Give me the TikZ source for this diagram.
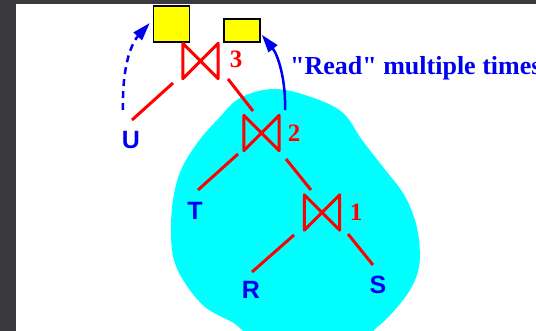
\documentclass[tikz,border=0pt]{standalone}
\usepackage{fontspec}
\setmainfont{Liberation Serif}
\newfontfamily\labelfont{Liberation Sans}
\newfontfamily\rdfont{Liberation Serif}
\usetikzlibrary{calc,arrows.meta}
\definecolor{bgdark}{HTML}{3A3A3E}
\definecolor{tblue}{HTML}{0000F0}
\definecolor{tred}{HTML}{FF0000}
\definecolor{tcyan}{HTML}{00FFFF}
\definecolor{tyellow}{HTML}{FFFF00}
\tikzset{
  joinnode/.style={minimum width=35pt,minimum height=35pt,inner sep=0pt,draw=none},
  bowtie/.style={tred,line width=3pt,line join=round},
  edge/.style={tred,line width=3pt},
  leaf/.style={text=tblue,font=\labelfont\bfseries\fontsize{25}{25}\selectfont,inner sep=0pt},
  num/.style={text=tred,font=\bfseries\fontsize{25}{25}\selectfont,inner sep=0pt},
  buf/.style={fill=tyellow,draw=black,line width=1.5pt,inner sep=0pt},
  reuse/.style={tblue,line width=2.5pt,-{Triangle[length=18pt,width=11pt]}},
}
\begin{document}
\begin{tikzpicture}[x=1pt,y=-1pt]
\useasboundingbox (0,0) rectangle (536,331);
\fill[bgdark] (0,0) rectangle (536,331);
\fill[white] (16,4) rectangle (536,331);
\begin{scope}
\clip (16,4) rectangle (536,331);
\fill[tcyan] plot[smooth cycle,tension=0.6] coordinates {
 (273,89) (308,96) (342,112) (362,140) (383,167) (403,193) (414,217)
 (419,240) (419,267) (410,290) (393,312) (376,328) (359,338) (263,338)
 (232,322) (205,307) (185,283) (174,260) (171,233) (173,200) (181,170)
 (198,142) (219,118) (240,98)};
\end{scope}
% buffers
\node[buf,minimum width=36pt,minimum height=36pt] (b1) at (171.5,24) {};
\node[buf,minimum width=36pt,minimum height=23pt] (b2) at (242,30.5) {};
% joins
\node[joinnode] (j3) at (200.5,61) {};
\node[joinnode] (j2) at (261.5,133) {};
\node[joinnode] (j1) at (322,212.5) {};
\foreach \j in {j1,j2,j3}{
  \draw[bowtie] (\j.north west) -- (\j.south west) -- (\j.north east) -- (\j.south east) -- cycle;
}
\node[num] (n3) at (236,59) {3};
\node[num] (n2) at (294,133.5) {2};
\node[num] (n1) at (356,212) {1};
% leaves
\node[leaf] (U) at (131,140) {U};
\node[leaf] (T) at (195,211) {T};
\node[leaf] (R) at (251,290) {R};
\node[leaf] (S) at (378,285) {S};
% edges
\draw[edge] ($(j3)+(-27.5,22)$) -- ($(U)+(1,-20)$);
\draw[edge] ($(j3)+(27.5,18)$) -- ($(j2)+(-8.5,-22)$);
\draw[edge] ($(j2)+(-23.5,21)$) -- ($(T)+(3,-21)$);
\draw[edge] ($(j2)+(24.5,26)$) -- ($(j1)+(-11,-22.5)$);
\draw[edge] ($(j1)+(-28,22.5)$) -- ($(R)+(1,-18)$);
\draw[edge] ($(j1)+(26,21.5)$) -- ($(S)+(-5,-20)$);
% reuse arrows
\draw[reuse,dash pattern=on 7pt off 5pt] ($(U)+(-8,-30)$) .. controls (122,70) and (130,45) .. ($(b1.west)+(-3,-1)$);
\draw[reuse] ($(j2)+(23.5,-23)$) .. controls (286,80) and (278,55) .. ($(b2.south east)+(1,-8)$);
\node[anchor=base west,inner sep=0pt,text=tblue,font=\rdfont\bfseries\fontsize{26}{26}\selectfont] (lbl) at (290,75) {"Read" multiple times};
\end{tikzpicture}
\end{document}
